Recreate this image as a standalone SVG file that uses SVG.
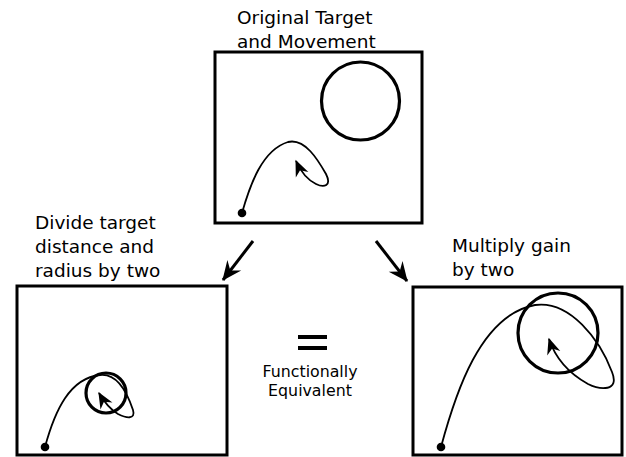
<svg xmlns="http://www.w3.org/2000/svg" width="626" height="457" viewBox="0 0 626 457">
<style>
.box{fill:none;stroke:#000;stroke-width:3}
.tgt{fill:none;stroke:#000;stroke-width:3.2}
.trj{fill:none;stroke:#000;stroke-width:1.8;marker-end:url(#ah)}
.dot{fill:#000}
.lbl{font-family:"DejaVu Sans",Verdana,sans-serif;font-size:18.5px;fill:#000}
.sm{font-family:"DejaVu Sans",Verdana,sans-serif;font-size:15.8px;fill:#000}
.con{fill:none;stroke:#000;stroke-width:3;marker-end:url(#big)}
</style>
<defs>
<marker id="ah" markerUnits="userSpaceOnUse" markerWidth="20" markerHeight="20" viewBox="-14 -7 16 14" refX="0" refY="0" orient="auto" overflow="visible">
<path d="M1,0 L-12,-5.5 L-8,0 L-12,5.5 z" fill="#000"/>
</marker>
<marker id="big" markerUnits="userSpaceOnUse" markerWidth="24" markerHeight="24" viewBox="-20 -10 22 20" refX="0" refY="0" orient="auto" overflow="visible">
<path d="M1,0 L-17,-8 L-11,0 L-17,8 z" fill="#000"/>
</marker>
</defs>
<rect width="626" height="457" fill="#fff"/>
<g id="original">
<text class="lbl" x="237" y="24">Original Target</text>
<text class="lbl" x="237" y="48">and Movement</text>
<rect class="box" x="215" y="52" width="207" height="171"/>
<circle class="tgt" cx="360.5" cy="101" r="39"/>
<path class="trj" d="M242,213 C250,185 262,150 288,142 C305,138 318,160 326,174 C332,186 324,188 316,184 C306,179 300,170 296,161"/>
<circle class="dot" cx="242" cy="213" r="4.3"/>
</g>
<g id="divide">
<text class="lbl" x="35" y="229">Divide target</text>
<text class="lbl" x="35" y="253">distance and</text>
<text class="lbl" x="35" y="277">radius by two</text>
<rect class="box" x="17" y="286" width="210" height="169"/>
<circle class="tgt" cx="106" cy="393" r="20"/>
<path class="trj" d="M45,447 C55,410 70,378 100,375 C118,373 128,395 133,410 C136,420 126,418 118,414 C108,408 103,400 99,393"/>
<circle class="dot" cx="45" cy="447" r="4.3"/>
</g>
<g id="multiply">
<text class="lbl" x="452" y="252">Multiply gain</text>
<text class="lbl" x="452" y="276">by two</text>
<rect class="box" x="413" y="287" width="209" height="168"/>
<circle class="tgt" cx="558" cy="333" r="40"/>
<path class="trj" d="M441,447 C455,395 480,315 535,305 C570,300 600,340 612,372 C620,392 600,390 588,384 C570,374 556,360 549,339"/>
<circle class="dot" cx="441" cy="447" r="4.3"/>
</g>
<g id="equiv">
<rect x="298" y="335" width="29" height="4" fill="#000"/>
<rect x="298" y="346" width="29" height="4" fill="#000"/>
<text class="sm" x="310" y="377" text-anchor="middle">Functionally</text>
<text class="sm" x="310" y="396" text-anchor="middle">Equivalent</text>
</g>
<g id="connectors">
<path class="con" d="M253,241 L223,280"/>
<path class="con" d="M376,241 L407,281"/>
</g>
</svg>
